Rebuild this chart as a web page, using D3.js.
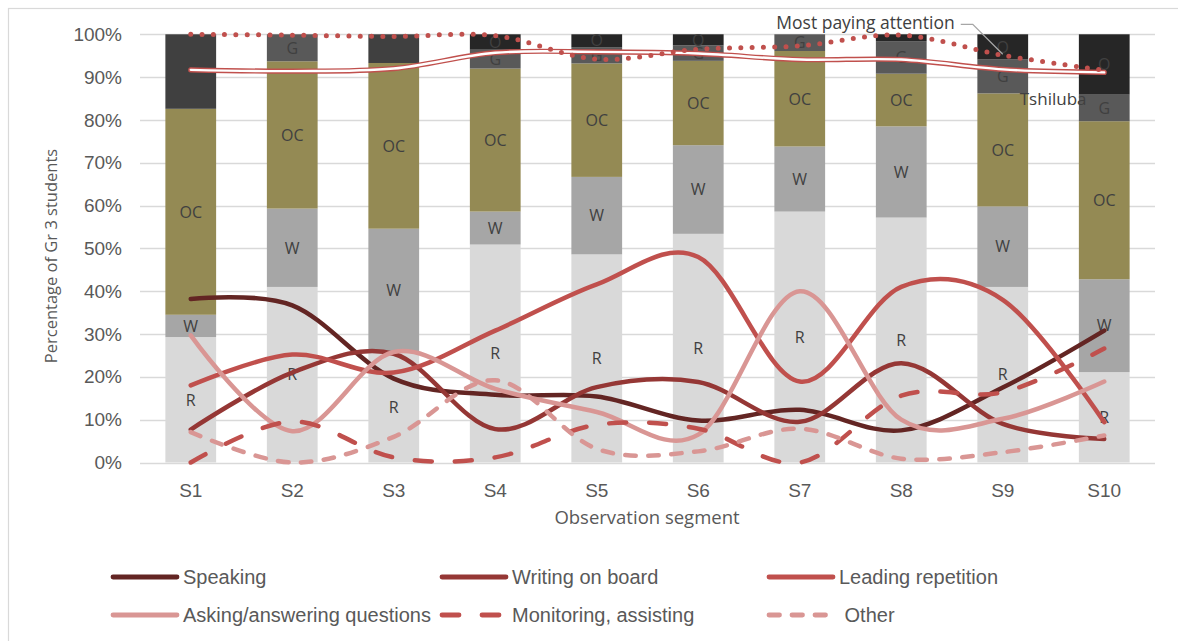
<!DOCTYPE html>
<html>
<head>
<meta charset="utf-8">
<script src="https://cdn.jsdelivr.net/npm/d3@7"></script>
<style>
  body { margin: 0; background: #fff; }
  svg { display: block; }
</style>
</head>
<body>
<svg id="chart" width="1178" height="641"></svg>
<script>
// Observation segments (x categories)
const segments = ["S1", "S2", "S3", "S4", "S5", "S6", "S7", "S8", "S9", "S10"];

// Stacked shares of students by activity (percent)
const shareR  = [29.3, 41.0, 26.0, 50.9, 48.6, 53.4, 58.6, 57.2, 41.0, 21.1];
const shareW  = [5.2, 18.3, 28.6, 7.7, 18.1, 20.7, 15.2, 21.3, 18.8, 21.7];
const shareOC = [48.1, 34.4, 38.7, 33.4, 26.5, 19.7, 22.3, 12.3, 26.4, 36.9];
const shareG  = [0, 6.3, 0, 4.4, 3.8, 3.6, 3.9, 7.6, 7.9, 6.2];
const shareO  = [0, 0, 0, 3.6, 3.0, 2.6, 0, 1.6, 5.9, 14.1];
const shareX  = [17.4, 0, 6.7, 0, 0, 0, 0, 0, 0, 0];
const stackKeys   = ["R", "W", "OC", "G", "O", "X"];
const stackLabels = ["R", "W", "OC", "G", "O", ""];

// Teacher activity lines (percent)
const speaking   = [38.2, 36.7, 19.6, 15.8, 15.4, 9.8, 12.3, 7.5, 17.5, 30.8];
const writing    = [7.7, 21.0, 25.4, 7.8, 17.6, 18.8, 9.5, 23.2, 9.0, 5.5];
const leading    = [18.0, 25.2, 21.0, 30.8, 41.6, 48.0, 18.9, 41.0, 38.0, 9.4];
const asking     = [29.7, 7.3, 25.8, 17.2, 11.8, 6.5, 40.0, 10.0, 10.2, 18.9];
const monitoring = [0, 9.6, 1.2, 1.2, 8.8, 7.9, 0, 15.6, 16.4, 26.6];
const other      = [7.1, 0, 6.0, 19.2, 3.2, 2.6, 7.9, 0.9, 2.4, 6.3];

// Attention and language lines (percent)
const payingAttention = [100, 99.8, 99.5, 99.7, 94.2, 96.5, 97.3, 99.8, 95.1, 91.6];
const tshiluba        = [91.7, 91.4, 92.0, 95.7, 95.9, 95.5, 94.1, 94.1, 91.8, 91.1];

const yTicks = [0, 10, 20, 30, 40, 50, 60, 70, 80, 90, 100];
const legendNames = ["Speaking", "Writing on board", "Leading repetition",
                     "Asking/answering questions", "Monitoring, assisting", " Other"];

const stackColors = { R: "#d9d9d9", W: "#a6a6a6", OC: "#948a54", G: "#595959", O: "#262626", X: "#404040" };

const svg = d3.select("#chart");

// chart area frame
svg.append("rect")
  .attr("x", 8.5).attr("y", 8.5).attr("width", 1300).attr("height", 800)
  .attr("fill", "#fff").attr("stroke", "#d9d9d9").attr("stroke-width", 1.2);

const x = d3.scaleBand().domain(segments).range([140, 1155]).paddingInner(0.5).paddingOuter(0.25);
const y = d3.scaleLinear().domain([0, 100]).range([462.5, 34.3]);
const cx = s => x(s) + x.bandwidth() / 2;

// gridlines
svg.append("g").selectAll("line").data(yTicks).join("line")
  .attr("x1", 140).attr("x2", 1155)
  .attr("y1", d => Math.round(y(d)) + 0.5).attr("y2", d => Math.round(y(d)) + 0.5)
  .attr("stroke", "#d9d9d9").attr("stroke-width", 1.3);

// axes
const yAxis = svg.append("g").attr("transform", "translate(140,0)")
  .call(d3.axisLeft(y).tickValues(yTicks).tickFormat(d => d + "%").tickSize(0).tickPadding(18));
const xAxis = svg.append("g").attr("transform", `translate(0,${y(0)})`)
  .call(d3.axisBottom(x).tickSize(0).tickPadding(21));
[yAxis, xAxis].forEach(g => {
  g.select(".domain").remove();
  g.selectAll("text").attr("font-family", "'Liberation Sans', Arial, sans-serif")
    .attr("font-size", 19).attr("fill", "#595959");
});

// stacked bars
const rows = segments.map((s, i) => ({
  seg: s, R: shareR[i], W: shareW[i], OC: shareOC[i], G: shareG[i], O: shareO[i], X: shareX[i]
}));
const stacked = d3.stack().keys(stackKeys)(rows);
const barG = svg.append("g");
stacked.forEach(layer => {
  barG.append("g").selectAll("rect").data(layer).join("rect")
    .attr("x", d => x(d.data.seg))
    .attr("width", x.bandwidth())
    .attr("y", d => y(d[1]))
    .attr("height", d => y(d[0]) - y(d[1]))
    .attr("fill", stackColors[layer.key]);
});
stacked.forEach((layer, k) => {
  if (!stackLabels[k]) return;
  barG.append("g").selectAll("text").data(layer.filter(d => d[1] - d[0] >= 2)).join("text")
    .attr("x", d => cx(d.data.seg))
    .attr("y", d => y((d[0] + d[1]) / 2))
    .attr("dy", "0.36em")
    .attr("text-anchor", "middle")
    .attr("font-family", "'Open Sans', sans-serif")
    .attr("font-size", 16)
    .attr("fill", "#404040")
    .text(stackLabels[k]);
});

// smoothed lines
const lineGen = d3.line()
  .x((v, i) => cx(segments[i]))
  .y(v => y(v))
  .curve(d3.curveCatmullRom.alpha(0));

const lineSeries = [
  { values: speaking,   color: "#632523", dash: null },
  { values: writing,    color: "#953735", dash: null },
  { values: leading,    color: "#c0504d", dash: null },
  { values: asking,     color: "#d99694", dash: null },
  { values: monitoring, color: "#c0504d", dash: "17 23" },
  { values: other,      color: "#d99694", dash: "10.5 12.5" }
];
const lineG = svg.append("g").attr("fill", "none").attr("stroke-linecap", "round");
lineSeries.forEach(s => {
  lineG.append("path").attr("d", lineGen(s.values))
    .attr("stroke", s.color).attr("stroke-width", 4.5)
    .attr("stroke-dasharray", s.dash);
});

// Tshiluba: double (compound) line
lineG.append("path").attr("d", lineGen(tshiluba))
  .attr("stroke", "#c0504d").attr("stroke-width", 5.2);
lineG.append("path").attr("d", lineGen(tshiluba))
  .attr("stroke", "#fff").attr("stroke-width", 2.4);

// Most paying attention: round dotted line
lineG.append("path").attr("d", lineGen(payingAttention))
  .attr("stroke", "#c0504d").attr("stroke-width", 5)
  .attr("stroke-dasharray", "0 11.3");

// annotations
const ai = 8; // S9
const ax = cx(segments[ai]);
svg.append("path")
  .attr("d", `M${ax - 42},${y(payingAttention[ai]) - 31}H${ax - 30}L${ax},${y(payingAttention[ai]) - 1}`)
  .attr("fill", "none").attr("stroke", "#a6a6a6").attr("stroke-width", 1.3);
svg.append("text")
  .attr("x", ax - 48).attr("y", y(payingAttention[ai]) - 26)
  .attr("text-anchor", "end")
  .attr("font-family", "'Open Sans', sans-serif").attr("font-size", 17.5)
  .attr("fill", "#404040").text("Most paying attention");
svg.append("text")
  .attr("x", ax + 17).attr("y", y(tshiluba[ai]) + 36)
  .attr("font-family", "'Open Sans', sans-serif").attr("font-size", 17)
  .attr("fill", "#404040").text("Tshiluba");

// axis titles
svg.append("text")
  .attr("x", 647).attr("y", 524).attr("text-anchor", "middle")
  .attr("font-family", "'Open Sans', sans-serif").attr("font-size", 18.5)
  .attr("fill", "#595959").text("Observation segment");
svg.append("text")
  .attr("transform", "translate(57,256) rotate(-90)")
  .attr("text-anchor", "middle")
  .attr("font-family", "'Open Sans', sans-serif").attr("font-size", 16.5)
  .attr("fill", "#595959").text("Percentage of Gr 3 students");

// legend
const legendCols = [111, 440, 767];
const legendRows = [577, 615];
const legG = svg.append("g");
lineSeries.forEach((s, i) => {
  const lx = legendCols[i % 3], ly = legendRows[Math.floor(i / 3)];
  legG.append("line")
    .attr("x1", lx + 2).attr("x2", lx + 66).attr("y1", ly).attr("y2", ly)
    .attr("stroke", s.color).attr("stroke-width", 4.8).attr("stroke-linecap", "round")
    .attr("stroke-dasharray", s.dash);
  legG.append("text")
    .attr("x", lx + 72).attr("y", ly).attr("dy", "0.35em")
    .attr("xml:space", "preserve").style("white-space", "pre")
    .attr("font-family", "'Liberation Sans', Arial, sans-serif").attr("font-size", 20)
    .attr("fill", "#595959").text(legendNames[i]);
});
</script>
</body>
</html>
